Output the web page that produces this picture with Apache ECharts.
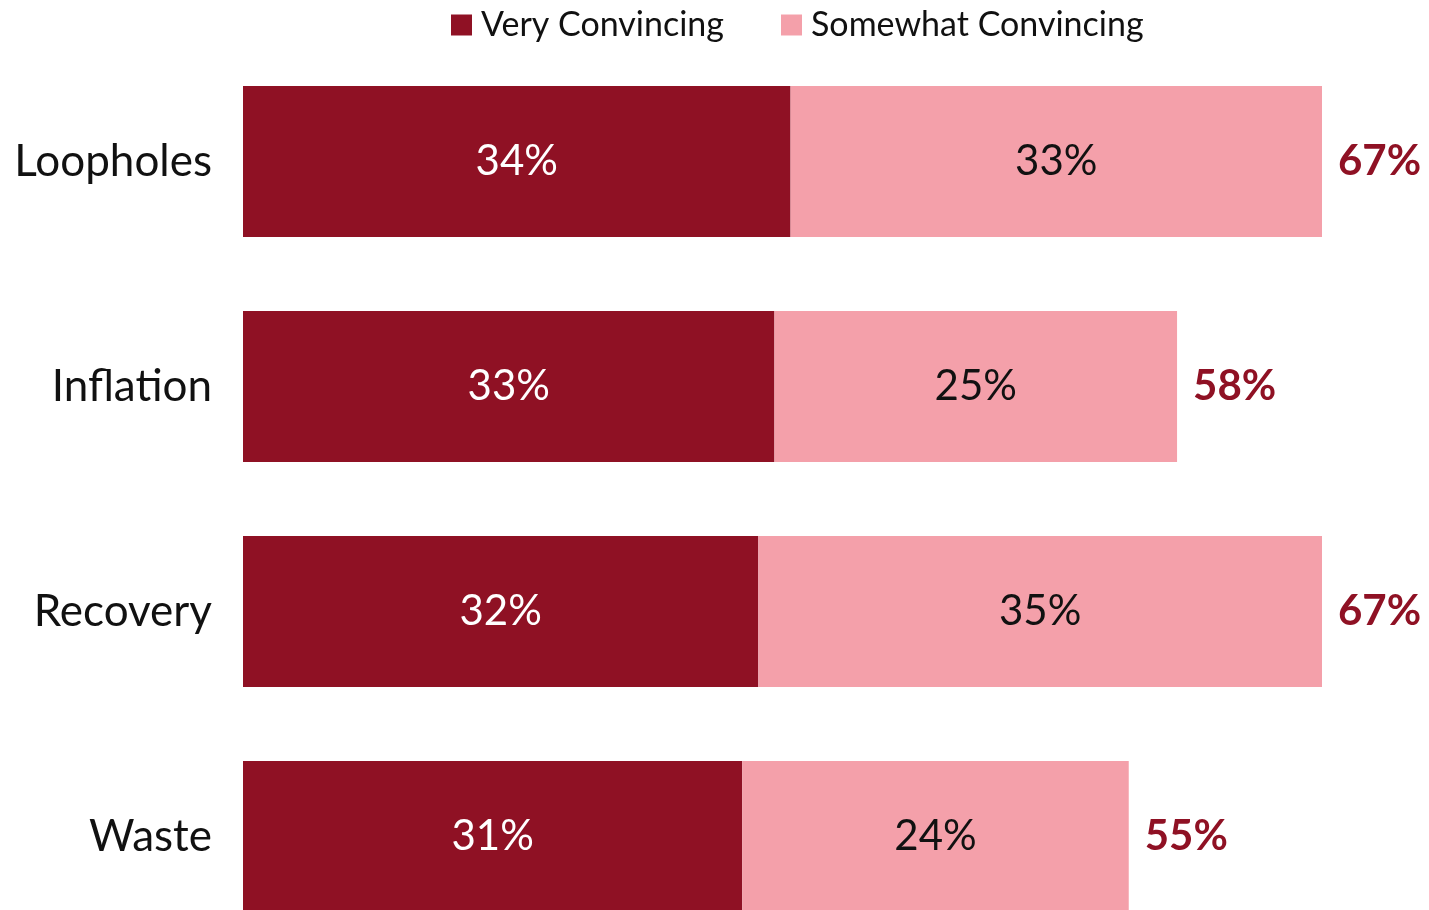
<!DOCTYPE html>
<html>
<head>
<meta charset="utf-8">
<script src="https://cdn.jsdelivr.net/npm/echarts@6/dist/echarts.min.js"></script>
<style>
  html, body { margin: 0; padding: 0; background: #fff; }
  #chart { width: 1429px; height: 910px; }
</style>
</head>
<body>
<div id="chart"></div>
<script>
  var categories = ['Loopholes', 'Inflation', 'Recovery', 'Waste'];
  var veryConvincing = [34, 33, 32, 31];
  var somewhatConvincing = [33, 25, 35, 24];
  var totals = [67, 58, 67, 55];

  var FONT = 'Lato, "Open Sans", sans-serif';
  var DARK = '#8F1124';
  var PINK = '#F4A0AA';

  var myChart = echarts.init(document.getElementById('chart'));
  myChart.setOption({
    animation: false,
    textStyle: { fontFamily: FONT },
    legend: {
      data: ['Very Convincing', 'Somewhat Convincing'],
      top: 3,
      left: 446,
      itemWidth: 21,
      itemHeight: 21,
      itemGap: 57,
      icon: 'rect',
      textStyle: { fontSize: 34, color: '#111', fontFamily: FONT, padding: [0, 0, 0, 4] }
    },
    grid: {
      left: 243,
      right: 107,
      top: 49,
      height: 900,
      outerBoundsMode: 'none'
    },
    xAxis: {
      type: 'value',
      min: 0,
      max: 67,
      show: false
    },
    yAxis: {
      type: 'category',
      data: categories,
      inverse: true,
      axisLine: { show: false },
      axisTick: { show: false },
      axisLabel: {
        margin: 31,
        fontSize: 44,
        color: '#111',
        fontFamily: FONT,
        padding: [4, 0, 0, 0]
      }
    },
    series: [{
      name: 'Very Convincing',
      type: 'bar',
      stack: 'total',
      barWidth: 151,
      itemStyle: { color: DARK },
      label: {
        show: true,
        position: 'inside',
        formatter: '{c}%',
        fontSize: 42,
        color: '#fff',
        fontFamily: FONT,
        padding: [4, 0, 0, 0]
      },
      data: veryConvincing
    }, {
      name: 'Somewhat Convincing',
      type: 'bar',
      stack: 'total',
      barWidth: 151,
      itemStyle: { color: PINK },
      label: {
        show: true,
        position: 'inside',
        formatter: '{c}%',
        fontSize: 42,
        color: '#111',
        fontFamily: FONT,
        padding: [4, 0, 0, 0]
      },
      data: somewhatConvincing
    }, {
      name: 'Total',
      type: 'bar',
      stack: 'total',
      barWidth: 151,
      itemStyle: { color: 'rgba(0,0,0,0)' },
      label: {
        show: true,
        position: 'right',
        distance: 16,
        fontSize: 42,
        fontWeight: 'bold',
        color: DARK,
        fontFamily: FONT,
        padding: [4, 0, 0, 0],
        formatter: function (p) {
          return totals[p.dataIndex] + '%';
        }
      },
      data: [0, 0, 0, 0]
    }]
  });
</script>
</body>
</html>
